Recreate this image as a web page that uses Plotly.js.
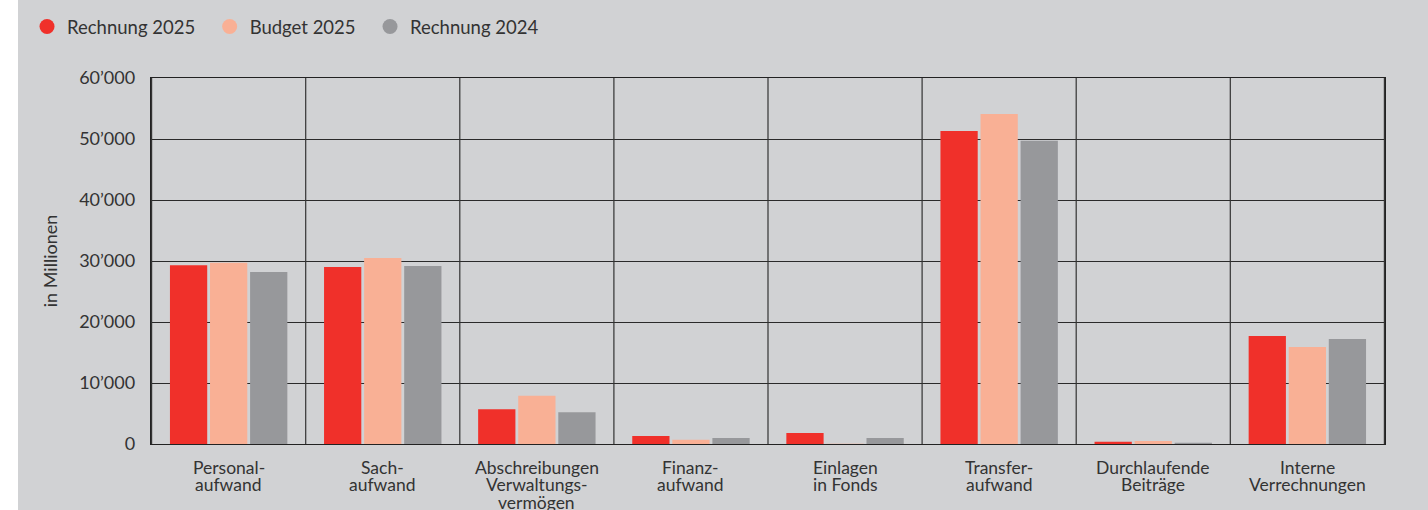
<!DOCTYPE html>
<html>
<head>
<meta charset="utf-8">
<script src="https://cdn.plot.ly/plotly-3.0.1.min.js"></script>
<style>
  html, body { margin: 0; padding: 0; background: #ffffff; }
  #chart { position: absolute; left: 18px; top: 0; width: 1410px; height: 510px; }
</style>
</head>
<body>
<div id="chart"></div>
<script>
const categories = [
  "Personal-<br>aufwand",
  "Sach-<br>aufwand",
  "Abschreibungen<br>Verwaltungs-<br>vermögen",
  "Finanz-<br>aufwand",
  "Einlagen<br>in Fonds",
  "Transfer-<br>aufwand",
  "Durchlaufende<br>Beiträge",
  "Interne<br>Verrechnungen"
];
const seriesNames = ["Rechnung 2025", "Budget 2025", "Rechnung 2024"];
const rechnung2025 = [29300, 29000, 5700, 1300, 1800, 51300, 350, 17700];
const budget2025   = [29700, 30500, 7900,  700,   50, 54100, 500, 15900];
const rechnung2024 = [28200, 29200, 5200, 1000, 1000, 49700, 200, 17200];
const yTickVals = [0, 10000, 20000, 30000, 40000, 50000, 60000];
const yTickText = ["0", "10’000", "20’000", "30’000", "40’000", "50’000", "60’000"];
const colors = ["#f0302a", "#f9b095", "#97989b"];

const values = [rechnung2025, budget2025, rechnung2024];
const traces = [];
values.forEach((v, i) => {
  traces.push({
    type: "bar", x: categories, y: v, name: seriesNames[i],
    marker: { color: colors[i] }, showlegend: false, hoverinfo: "y"
  });
});
values.forEach((v, i) => {
  traces.push({
    type: "scatter", mode: "markers", x: [null], y: [null],
    name: seriesNames[i] + "\u00a0\u00a0",
    marker: { color: colors[i], size: 15, symbol: "circle" }, showlegend: true
  });
});

const shapes = [];
for (let k = 0; k <= categories.length; k++) {
  shapes.push({
    type: "line", xref: "x", yref: "paper", x0: k - 0.5, x1: k - 0.5, y0: 0, y1: 1,
    line: { color: "#333333", width: 1.2 }
  });
}

// category labels, one annotation per line for tight line spacing
const annotations = [];
categories.forEach((c) => {
  c.split("<br>").forEach((line, j) => {
    annotations.push({
      x: c, xref: "x", y: 0, yref: "paper", text: line, showarrow: false,
      xanchor: "center", yanchor: "middle", yshift: -(23 + j * 17.5),
      borderpad: 0,
      font: { size: 17.5, color: "#333333" }
    });
  });
});

const layout = {
  width: 1410, height: 510,
  margin: { l: 133, r: 43, t: 78, b: 66 },
  paper_bgcolor: "#d1d2d4",
  plot_bgcolor: "#d1d2d4",
  font: { family: "Lato, 'Open Sans', sans-serif", color: "#333333", size: 18 },
  barmode: "group",
  bargap: 0.22,
  bargroupgap: 0.07,
  showlegend: true,
  legend: {
    orientation: "h", xref: "container", yref: "container",
    x: 0.0064, xanchor: "left", y: 0.947, yanchor: "middle",
    font: { size: 18.5, color: "#333333" }, bgcolor: "rgba(0,0,0,0)"
  },
  xaxis: {
    type: "category", showgrid: false, showline: true, linecolor: "#222222", linewidth: 1.2,
    mirror: true, ticks: "", showticklabels: false, fixedrange: true
  },
  yaxis: {
    range: [0, 60000], tickvals: yTickVals, ticktext: yTickText,
    showgrid: true, gridcolor: "#2a2a2a", gridwidth: 1, zeroline: false,
    showline: true, linecolor: "#222222", linewidth: 1.2, mirror: true,
    ticks: "", ticklabelstandoff: 11, tickfont: { size: 18, color: "#333333" },
    title: { text: "in Millionen", font: { size: 18, color: "#333333" }, standoff: 16 },
    fixedrange: true
  },
  shapes: shapes,
  annotations: annotations
};

Plotly.newPlot("chart", traces, layout, { displayModeBar: false, staticPlot: true });
</script>
</body>
</html>
